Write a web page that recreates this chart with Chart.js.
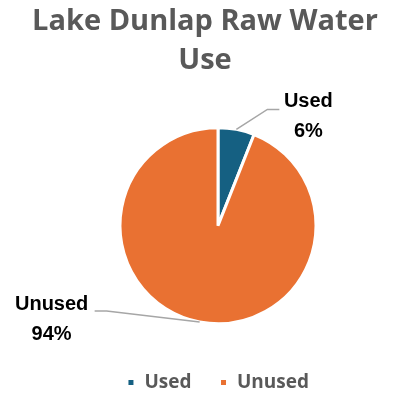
<!DOCTYPE html>
<html>
<head>
<meta charset="utf-8">
<script src="https://cdn.jsdelivr.net/npm/chart.js@4"></script>
<style>
  html, body { margin: 0; padding: 0; background: #fff; }
  #wrap { width: 401px; height: 394px; }
</style>
</head>
<body>
<div id="wrap"><canvas id="c" width="401" height="394"></canvas></div>
<script>
// Share of Lake Dunlap raw water that is used vs. unused (percent)
const categories = ['Used', 'Unused'];
const shares = [6, 94];
const sliceColors = ['#156082', '#E97132'];

// Outside labels with leader lines: elbow offset and text position relative to the slice edge point
const labelLayout = [
  { elbow: [31, -20], end: [43, -20], text: [72, -13], gap: 15 },
  { elbow: [-93, -11], end: [-105, -11], text: [-148, -2], gap: 15 }
];

const outsideLabels = {
  id: 'outsideLabels',
  afterLayout(chart) {
    // centre the title over the whole canvas rather than over the padded plot
    const t = chart.titleBlock;
    if (t) { t.left -= 13; t.right -= 13; }
  },
  afterDatasetsDraw(chart) {
    const ctx = chart.ctx;
    const meta = chart.getDatasetMeta(0);
    const total = shares.reduce((a, b) => a + b, 0);
    meta.data.forEach((arc, i) => {
      const mid = (arc.startAngle + arc.endAngle) / 2;
      const px = arc.x + Math.cos(mid) * arc.outerRadius;
      const py = arc.y + Math.sin(mid) * arc.outerRadius;
      const L = labelLayout[i];
      ctx.save();
      ctx.strokeStyle = '#A6A6A6';
      ctx.lineWidth = 1.5;
      ctx.beginPath();
      ctx.moveTo(px, py);
      ctx.lineTo(px + L.elbow[0], py + L.elbow[1]);
      ctx.lineTo(px + L.end[0], py + L.end[1]);
      ctx.stroke();
      ctx.fillStyle = '#000';
      ctx.font = 'bold 20px "Liberation Sans", Arial, sans-serif';
      ctx.textAlign = 'center';
      ctx.textBaseline = 'middle';
      const tx = px + L.text[0], ty = py + L.text[1];
      const pct = Math.round(shares[i] / total * 100) + '%';
      ctx.fillText(categories[i], tx, ty - L.gap);
      ctx.fillText(pct, tx, ty + L.gap);
      ctx.restore();
    });
  }
};

new Chart(document.getElementById('c'), {
  type: 'pie',
  data: {
    labels: categories,
    datasets: [{
      data: shares,
      backgroundColor: sliceColors,
      borderColor: '#ffffff',
      borderWidth: 3,
      radius: 98
    }]
  },
  options: {
    responsive: false,
    animation: false,
    layout: { padding: { left: 35, right: 0, top: 2, bottom: -8 } },
    plugins: {
      title: {
        display: true,
        text: ['Lake Dunlap Raw Water', 'Use'],
        color: '#595959',
        font: { family: 'Open Sans', size: 29, weight: 'bold', lineHeight: 1.35 },
        padding: { top: 0, bottom: 26 }
      },
      legend: {
        position: 'bottom',
        labels: {
          color: '#595959',
          font: { family: 'Open Sans', size: 19, weight: 'bold' },
          boxWidth: 8,
          boxHeight: 8,
          padding: 28
        }
      },
      tooltip: { enabled: false }
    }
  },
  plugins: [outsideLabels]
});
</script>
</body>
</html>
